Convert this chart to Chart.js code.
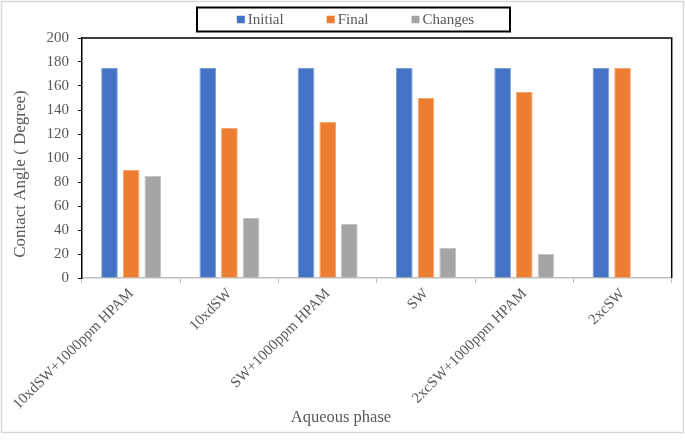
<!DOCTYPE html>
<html><head><meta charset="utf-8">
<script src="https://cdn.jsdelivr.net/npm/chart.js@4.4.1/dist/chart.umd.min.js"></script>
<style>html,body{margin:0;padding:0;background:#fff;}canvas{display:block;}</style>
</head><body>
<canvas id="c" width="685" height="440"></canvas>
<script>
const categories = ['10xdSW+1000ppm HPAM', '10xdSW', 'SW+1000ppm HPAM', 'SW', '2xcSW+1000ppm HPAM', '2xcSW'];
const seriesNames = ['Initial', 'Final', 'Changes'];
const initialValues = [175, 175, 175, 175, 175, 175];
const finalValues = [90, 125, 130, 150, 155, 175];
const changesValues = [85, 50, 45, 25, 20, 0];
const yMin = 0, yMax = 200, yStep = 20;
const yAxisTitle = 'Contact Angle ( Degree)';
const xAxisTitle = 'Aqueous phase';

const FONT = "'Liberation Serif', 'Times New Roman', serif";
const TEXT = '#595959';
Chart.defaults.font.family = FONT;
Chart.defaults.color = TEXT;

const fills = ['#4472C4', '#ED7D31', '#A5A5A5'];
const edges = ['#7E9ED8', '#F3A571', '#C4C4C4'];

const framePlugin = {
  id: 'frame',
  beforeDraw(chart) {
    const ctx = chart.ctx;
    ctx.save();
    ctx.fillStyle = '#fff';
    ctx.fillRect(0, 0, chart.width, chart.height);
    ctx.strokeStyle = '#d9d9d9';
    ctx.lineWidth = 1.5;
    ctx.strokeRect(1.5, 1.5, chart.width - 3, 431);
    ctx.restore();
  },
  afterDraw(chart) {
    const ctx = chart.ctx;
    const a = chart.chartArea;
    ctx.save();
    // top and right border of plot area
    ctx.strokeStyle = '#000';
    ctx.lineWidth = 1.5;
    ctx.beginPath();
    ctx.moveTo(a.left, a.top);
    ctx.lineTo(a.right, a.top);
    ctx.lineTo(a.right, a.bottom);
    ctx.stroke();

    // axis titles
    ctx.fillStyle = TEXT;
    ctx.textAlign = 'center';
    ctx.textBaseline = 'middle';
    ctx.font = "16.5px " + FONT;
    ctx.fillText(xAxisTitle, 341, 418);
    ctx.save();
    ctx.translate(21, 174);
    ctx.rotate(-Math.PI / 2);
    ctx.font = "17px " + FONT;
    ctx.fillText(yAxisTitle, 0, 0);
    ctx.restore();

    // legend
    ctx.font = "15px " + FONT;
    const box = 8, gap = 3, spacing = 43;
    const items = chart.data.datasets.map((d, i) => ({label: d.label, color: d.backgroundColor, w: box + gap + ctx.measureText(d.label).width}));
    const total = items.reduce((s, it) => s + it.w, 0) + spacing * (items.length - 1);
    let x = 355.5 - total / 2;
    const cy = 19.5;
    ctx.strokeStyle = '#000';
    ctx.lineWidth = 2;
    ctx.strokeRect(197, 7.5, 313, 24);
    ctx.textAlign = 'left';
    items.forEach(it => {
      ctx.fillStyle = it.color;
      ctx.fillRect(x, cy - 3.75, box, 7.5);
      ctx.fillStyle = TEXT;
      ctx.fillText(it.label, x + box + gap, cy + 0.5);
      x += it.w + spacing;
    });
    ctx.restore();
  }
};

new Chart(document.getElementById('c'), {
  type: 'bar',
  data: {
    labels: categories,
    datasets: [
      {label: seriesNames[0], data: initialValues, backgroundColor: fills[0], borderColor: edges[0], borderWidth: 1},
      {label: seriesNames[1], data: finalValues, backgroundColor: fills[1], borderColor: edges[1], borderWidth: 1},
      {label: seriesNames[2], data: changesValues, backgroundColor: fills[2], borderColor: edges[2], borderWidth: 1}
    ]
  },
  options: {
    responsive: false,
    animation: false,
    devicePixelRatio: 1,
    categoryPercentage: 0.661,
    barPercentage: 0.77,
    layout: {padding: {left: 0, right: 13.3, top: 38, bottom: 0}},
    plugins: {legend: {display: false}, tooltip: {enabled: false}},
    scales: {
      x: {
        grid: {drawOnChartArea: false, drawTicks: true, tickLength: 5, color: '#bfbfbf', offset: true},
        border: {color: '#bfbfbf', width: 1.5},
        ticks: {color: TEXT, font: {size: 15}, minRotation: 45, maxRotation: 45, padding: 2, autoSkip: false},
        afterFit(s) { s.height = 162; }
      },
      y: {
        min: yMin, max: yMax,
        grid: {drawOnChartArea: false, drawTicks: true, tickLength: 4, color: '#000', lineWidth: 1},
        border: {color: '#000', width: 1.5},
        ticks: {stepSize: yStep, color: TEXT, font: {size: 15}, padding: 9},
        afterFit(s) { s.width = 82; }
      }
    }
  },
  plugins: [framePlugin]
});
</script>
</body></html>
